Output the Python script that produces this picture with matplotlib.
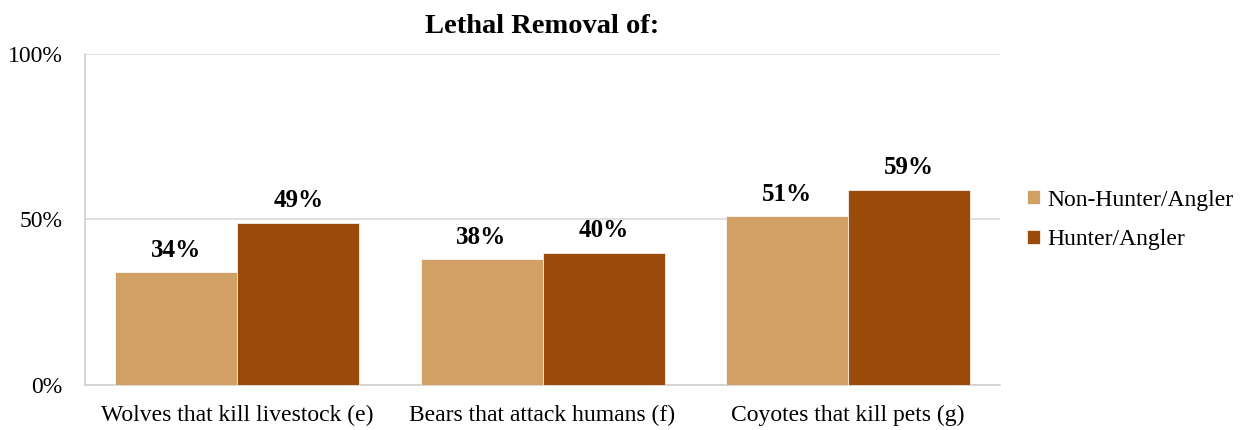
import numpy as np
import matplotlib.pyplot as plt

plt.rcParams['font.family'] = ['Liberation Serif', 'DejaVu Serif']

categories = ['Wolves that kill livestock (e)', 'Bears that attack humans (f)', 'Coyotes that kill pets (g)']
non_hunter = [34, 38, 51]
hunter = [49, 40, 59]
series_names = ['Non-Hunter/Angler', 'Hunter/Angler']
colors = ['#D1A064', '#9A4A09']

fig = plt.figure(figsize=(12.46, 4.30), dpi=100)
ax = fig.add_axes([0.0682, 0.1047, 0.7344, 0.7697])

x = np.arange(len(categories))
w = 0.4
b1 = ax.bar(x - w/2, non_hunter, w, color=colors[0], edgecolor='white', linewidth=0.5, label=series_names[0], zorder=3)
b2 = ax.bar(x + w/2, hunter, w, color=colors[1], edgecolor='white', linewidth=0.5, label=series_names[1], zorder=3)

for bars, vals in [(b1, non_hunter), (b2, hunter)]:
    for r, v in zip(bars, vals):
        ax.text(r.get_x() + r.get_width()/2, v + 3.2, f'{v}%', ha='center', va='bottom',
                fontsize=18, fontweight='bold')

ax.set_xlim(-0.5, 2.5)
ax.set_ylim(0, 100)
ax.set_yticks([0, 50, 100])
ax.set_yticklabels(['0%', '50%', '100%'])
ax.set_xticks(x)
ax.set_xticklabels(categories)
ax.tick_params(axis='both', length=0, labelsize=17)
ax.tick_params(axis='y', pad=16)
ax.tick_params(axis='x', pad=14)
ax.yaxis.grid(True, color='#D9D9D9', linewidth=1.2, zorder=0)
for s in ['top', 'right']:
    ax.spines[s].set_visible(False)
for s in ['left', 'bottom']:
    ax.spines[s].set_color('#D0D0D0')
    ax.spines[s].set_linewidth(1.2)

ax.set_title('Lethal Removal of:', fontsize=20.5, fontweight='bold', pad=15)

ax.legend(loc='center left', bbox_to_anchor=(1.019, 0.499), frameon=False, fontsize=17,
          borderaxespad=0, handlelength=0.55, handleheight=0.55, handletextpad=0.3,
          labelspacing=0.78)

fig.savefig('out.png', dpi=100)
